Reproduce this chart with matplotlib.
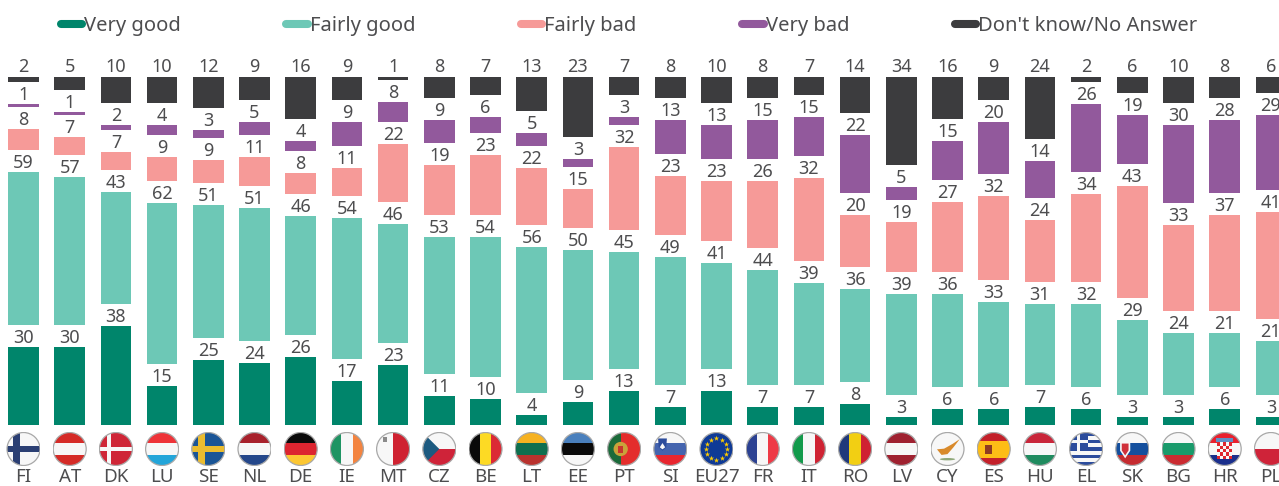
import numpy as np
import matplotlib
matplotlib.use("Agg")
import matplotlib.pyplot as plt
from matplotlib.lines import Line2D
from matplotlib.patches import Circle, Rectangle, Polygon, Ellipse

plt.rcParams['font.family'] = ['Noto Sans', 'DejaVu Sans']

countries = ["FI", "AT", "DK", "LU", "SE", "NL", "DE", "IE", "MT", "CZ", "BE", "LT", "EE", "PT",
             "SI", "EU27", "FR", "IT", "RO", "LV", "CY", "ES", "HU", "EL", "SK", "BG", "HR", "PL"]
very_good = [30, 30, 38, 15, 25, 24, 26, 17, 23, 11, 10, 4, 9, 13, 7, 13, 7, 7, 8, 3, 6, 6, 7, 6, 3, 3, 6, 3]
fairly_good = [59, 57, 43, 62, 51, 51, 46, 54, 46, 53, 54, 56, 50, 45, 49, 41, 44, 39, 36, 39, 36, 33, 31, 32, 29, 24, 21, 21]
fairly_bad = [8, 7, 7, 9, 9, 11, 8, 11, 22, 19, 23, 22, 15, 32, 23, 23, 26, 32, 20, 19, 27, 32, 24, 34, 43, 33, 37, 41]
very_bad = [1, 1, 2, 4, 3, 5, 4, 9, 8, 9, 6, 5, 3, 3, 13, 13, 15, 15, 22, 5, 15, 20, 14, 26, 19, 30, 28, 29]
dont_know = [2, 5, 10, 10, 12, 9, 16, 9, 1, 8, 7, 13, 23, 7, 8, 10, 8, 7, 14, 34, 16, 9, 24, 2, 6, 10, 8, 6]

series = [very_good, fairly_good, fairly_bad, very_bad, dont_know]
names = ["Very good", "Fairly good", "Fairly bad", "Very bad", "Don't know/No Answer"]
colors = ["#00856b", "#6dc8b6", "#f69a98", "#92599c", "#3c3c3e"]
text_color = "#4d4d4f"

PX_UNIT = 2.6     # pixels per percentage point
STEP = 46.2       # pixels between bars
GAP = 22 / PX_UNIT  # space left for the value label between two segments

fig = plt.figure(figsize=(12.79, 4.86), dpi=100)
ax = fig.add_axes([0, 61 / 486, 1, 425 / 486])
x = np.arange(len(countries))

bottom = np.zeros(len(countries))
for vals, col in zip(series, colors):
    bars = ax.bar(x, vals, width=30.5 / STEP, bottom=bottom, color=col, linewidth=0)
    pad = 1 if vals is dont_know else 0
    ax.bar_label(bars, labels=[str(v) for v in vals], fontsize=13, color=text_color, padding=pad)
    bottom = bottom + np.array(vals) + GAP

ax.set_xlim(-23.5 / STEP, (1279 - 23.5) / STEP)
ax.set_ylim(0, 425 / PX_UNIT)
ax.set_xticks(x, countries, fontsize=13.5, color=text_color)
ax.tick_params(axis='x', length=0, pad=31)
ax.set_yticks([])
for s in ax.spines.values():
    s.set_visible(False)

handles = [Line2D([], [], color=c, lw=5.8, solid_capstyle='round') for c in colors]
fig.legend(handles, names, loc='upper left', bbox_to_anchor=(0.0411, 0.983), ncol=5, frameon=False,
           fontsize=14.5, labelcolor=text_color, handlelength=1.05, handletextpad=0.1,
           columnspacing=5.26, borderpad=0.2, borderaxespad=0.2)


# flags, all drawn in a -1..1 box and clipped to the round badge
W = "#f7f7f7"
h_flags = {
    "AT": ["#d52b27", W, "#d52b27"], "LU": ["#ee3338", W, "#23a5d9"], "NL": ["#a8212c", W, "#24478a"],
    "DE": ["#0a0a0a", "#dc2530", "#fcc733"], "LT": ["#f6b221", "#0f6f4f", "#b9322e"],
    "EE": ["#4a80bd", "#0a0a0a", W], "SI": [W, "#4464ae", "#e8262f"], "LV": ["#9f2130", W, "#9f2130"],
    "ES": ["#c3202a", "#fdbd16", "#fdbd16", "#c3202a"], "HU": ["#c9263a", W, "#1f8b5f"],
    "SK": [W, "#144f9d", "#c52b30"], "BG": [W, "#199a6b", "#cb2b31"], "HR": ["#e8202e", W, "#1a2f8c"],
    "PL": [W, "#cf2339"], "CZ": [W, "#cf2339"],
}
v_flags = {
    "IE": ["#1f9463", W, "#f38440"], "MT": [W, "#cf2231"], "BE": ["#0a0a0a", "#fdda24", "#db2a35"],
    "FR": ["#2b4192", W, "#ee3a46"], "IT": ["#129a4b", W, "#cf2333"], "RO": ["#20397b", "#f2cf13", "#cf2132"],
}
cross_flags = {"FI": (W, "#2b3f73", 0.2), "DK": ("#cf2637", W, 0.14), "SE": ("#1a5596", "#eabc2f", 0.18)}


def draw_flag(fa, code):
    parts = []
    if code in h_flags:
        cols = h_flags[code]
        edges = np.linspace(1, -1, len(cols) + 1)
        for c, top, low in zip(cols, edges[:-1], edges[1:]):
            parts.append(Rectangle((-1, low), 2, top - low, color=c, lw=0))
    if code in v_flags:
        cols = v_flags[code]
        edges = np.linspace(-1, 1, len(cols) + 1)
        for c, left, right in zip(cols, edges[:-1], edges[1:]):
            parts.append(Rectangle((left, -1), right - left, 2, color=c, lw=0))
    if code in cross_flags:
        bg, fg, t = cross_flags[code]
        parts.append(Rectangle((-1, -1), 2, 2, color=bg, lw=0))
        parts.append(Rectangle((-1, -t), 2, 2 * t, color=fg, lw=0))
        parts.append(Rectangle((-0.4 - t, -1), 2 * t, 2, color=fg, lw=0))
    if code == "MT":
        parts.append(Rectangle((-0.6, 0.4), 0.24, 0.3, color="#8a8a8a", lw=0))
    if code == "CZ":
        parts.append(Polygon([(-1, 1), (-1, -1), (0, 0)], color="#1c5a80", lw=0))
    if code == "PT":
        parts.append(Rectangle((-1, -1), 2, 2, color="#e42d2c", lw=0))
        parts.append(Rectangle((-1, -1), 0.8, 2, color="#1b6a3a", lw=0))
        parts.append(Circle((-0.2, 0), 0.42, color="#c9a23a", lw=0))
        parts.append(Rectangle((-0.36, -0.22), 0.32, 0.42, color="#c8352e", lw=0))
    if code == "SI":
        parts.append(Polygon([(-0.72, 0.62), (-0.2, 0.62), (-0.24, 0.1), (-0.46, -0.1), (-0.68, 0.1)], color="#2c4c9c", lw=0))
        parts.append(Polygon([(-0.62, 0.1), (-0.46, 0.35), (-0.3, 0.1), (-0.46, -0.02)], color=W, lw=0))
    if code == "EU27":
        parts.append(Rectangle((-1, -1), 2, 2, color="#0f3a96", lw=0))
    if code == "CY":
        parts.append(Rectangle((-1, -1), 2, 2, color=W, lw=0))
        parts.append(Polygon([(-0.62, -0.02), (-0.2, 0.02), (0.3, 0.3), (0.72, 0.58), (0.35, 0.1), (0.0, -0.3), (-0.35, -0.35)],
                             color="#d98a2b", lw=0))
        parts.append(Ellipse((0, -0.6), 0.9, 0.14, color="#8fa87a", lw=0))
    if code == "ES":
        parts.append(Rectangle((-0.5, -0.32), 0.4, 0.58, color="#8e3a22", lw=0))
    if code == "EL":
        edges = np.linspace(1, -1, 10)
        for i in range(9):
            c = "#2c4c9c" if i % 2 == 0 else W
            parts.append(Rectangle((-1, edges[i + 1]), 2, edges[i] - edges[i + 1], color=c, lw=0))
        parts.append(Rectangle((-1, -0.11), 1.1, 1.11, color="#2c4c9c", lw=0))
        parts.append(Rectangle((-1, 0.34), 1.1, 0.2, color=W, lw=0))
        parts.append(Rectangle((-0.55, -0.11), 0.2, 1.11, color=W, lw=0))
    if code == "SK":
        parts.append(Polygon([(-0.72, 0.42), (-0.12, 0.42), (-0.12, -0.1), (-0.42, -0.55), (-0.72, -0.1)], color=W, lw=0))
        parts.append(Polygon([(-0.62, 0.32), (-0.22, 0.32), (-0.22, -0.08), (-0.42, -0.38), (-0.62, -0.08)], color="#d0303a", lw=0))
    if code == "HR":
        parts.append(Rectangle((-0.44, -0.6), 0.88, 1.0, color=W, lw=0))
        for r in range(5):
            for q in range(5):
                if (r + q) % 2 == 0:
                    parts.append(Rectangle((-0.44 + q * 0.176, -0.6 + r * 0.2), 0.176, 0.2, color="#e0252f", lw=0))
        parts.append(Rectangle((-0.5, 0.4), 1.0, 0.24, color="#5f8fc4", lw=0))

    badge = Circle((0, 0), 0.97, transform=fa.transData)
    for p in parts:
        fa.add_patch(p)
        p.set_clip_path(badge)
    if code == "EU27":
        ang = np.deg2rad(np.arange(0, 360, 30))
        fa.scatter(0.64 * np.cos(ang), 0.64 * np.sin(ang), marker='*', s=16, color="#ffcc00", lw=0, zorder=3)
    fa.add_patch(Circle((0, 0), 0.97, fill=False, ec="#a8a8a8", lw=0.9))


for i, code in enumerate(countries):
    # inset placed from the bar position, size is 34x34 px
    fa = ax.inset_axes([i - 17 / STEP, -41 / PX_UNIT, 34 / STEP, 34 / PX_UNIT], transform=ax.transData)
    fa.set_xlim(-1, 1)
    fa.set_ylim(-1, 1)
    fa.axis('off')
    draw_flag(fa, code)

fig.savefig("out.png", dpi=100)
